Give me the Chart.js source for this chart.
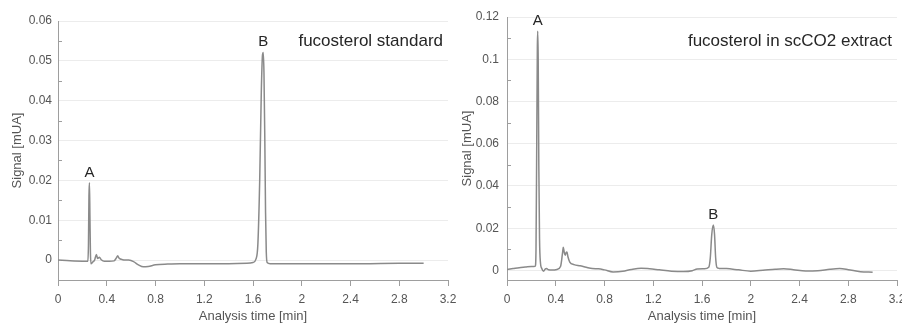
<!DOCTYPE html>
<html>
<head>
<meta charset="utf-8">
<script src="https://cdn.jsdelivr.net/npm/chart.js@4.4.1/dist/chart.umd.min.js"></script>
<style>
  html, body { margin: 0; padding: 0; background: #fff; }
  #wrap { position: relative; width: 902px; height: 324px; overflow: hidden; background: #fff; }
  #stdChart { position: absolute; left: 0; top: 0; }
  #extChart { position: absolute; left: 450px; top: 0; }
</style>
</head>
<body>
<div id="wrap">
  <canvas id="stdChart" width="470" height="324"></canvas>
  <canvas id="extChart" width="470" height="324"></canvas>
</div>
<script>
// shared axis
const xTicks = [0, 0.4, 0.8, 1.2, 1.6, 2, 2.4, 2.8, 3.2];

// fucosterol standard (left)
const stdTime = [0, 0.1, 0.2, 0.245, 0.25, 0.254, 0.258, 0.262, 0.266, 0.27, 0.285, 0.3, 0.315, 0.325, 0.34, 0.355, 0.38,
    0.42, 0.46, 0.48, 0.49, 0.5, 0.53, 0.58, 0.62, 0.66, 0.7, 0.74, 0.8, 0.9, 1.0, 1.2, 1.4, 1.55, 1.6, 1.625, 1.64,
    1.655, 1.668, 1.678, 1.684, 1.69, 1.697, 1.703, 1.709, 1.716, 1.74, 1.9, 2.2, 2.5, 2.8, 3.0];
const stdSignal = [0, -0.0002, -0.0003, -0.0003, 0.004, 0.016, 0.0194, 0.011, 0.002, -0.0009, -0.0005, 0, 0.0014, 0.0004, 0.0007, 0.0001, -0.0003,
    -0.0003, -0.0002, 0.0006, 0.0011, 0.0005, 0.0001, 0, -0.0004, -0.0012, -0.0017, -0.0016, -0.0012, -0.001, -0.0009, -0.0009, -0.0009, -0.0008, -0.0006, 0.0003, 0.004,
    0.02, 0.042, 0.0515, 0.0521, 0.047, 0.03, 0.012, 0.002, -0.0006, -0.0009, -0.0009, -0.0009, -0.0009, -0.0008, -0.0008];
const stdYTicks = [0, 0.01, 0.02, 0.03, 0.04, 0.05, 0.06];
const stdYMinor = [0.005, 0.015, 0.025, 0.035, 0.045, 0.055];
const stdPeakNames = ['A', 'B'];
const stdPeakTime = [0.258, 1.684];
const stdPeakSignal = [0.0194, 0.0521];

// fucosterol in scCO2 extract (right)
const extTime = [0, 0.05, 0.1, 0.15, 0.2, 0.232, 0.238, 0.244, 0.249, 0.252, 0.256, 0.261, 0.267, 0.274, 0.285, 0.3, 0.315,
    0.325, 0.34, 0.37, 0.41, 0.44, 0.455, 0.462, 0.47, 0.478, 0.485, 0.492, 0.5, 0.515, 0.55, 0.6, 0.65, 0.7, 0.75, 0.8,
    0.87, 0.95, 1.02, 1.1, 1.17, 1.25, 1.35, 1.45, 1.52, 1.56, 1.62, 1.655, 1.668, 1.68, 1.693, 1.703, 1.712, 1.722, 1.74,
    1.8, 1.9, 2.0, 2.1, 2.2, 2.27, 2.35, 2.45, 2.55, 2.65, 2.73, 2.8, 2.9, 3.0];
const extSignal = [0.0005, 0.0009, 0.0013, 0.0016, 0.0019, 0.002, 0.01, 0.06, 0.105, 0.1133, 0.1, 0.05, 0.015, 0.004, 0.001, -0.0003, 0.0008,
    0.001, 0.0003, 0.0002, 0.0005, 0.002, 0.008, 0.011, 0.0085, 0.0072, 0.0085, 0.0088, 0.0065, 0.004, 0.0028, 0.0022, 0.0015, 0.0009, 0.0008, 0.0003,
    -0.0007, -0.0004, 0.0005, 0.0011, 0.0008, 0.0003, -0.0003, -0.0005, -0.0001, 0.0007, 0.0008, 0.0015, 0.006, 0.017, 0.0215, 0.017, 0.006, 0.0015, 0.001,
    0.0009, 0.0003, -0.0003, 0.0001, 0.0006, 0.0008, 0.0004, -0.0002, -0.0001, 0.0006, 0.0009, 0.0004, -0.0006, -0.0008];
const extYTicks = [0, 0.02, 0.04, 0.06, 0.08, 0.1, 0.12];
const extYMinor = [0.01, 0.03, 0.05, 0.07, 0.09, 0.11];
const extPeakNames = ['A', 'B'];
const extPeakTime = [0.252, 1.693];
const extPeakSignal = [0.1133, 0.0215];

const FONT = "'Liberation Sans', Arial, sans-serif";
const AXIS_GRAY = '#9e9e9e';
const TEXT_GRAY = '#555555';

// peak letters, panel caption and the short minor ticks inside the y axis
const chromLabels = {
    id: 'chromLabels',
    afterDraw(chart, args, opts) {
        const ctx = chart.ctx;
        const xs = chart.scales.x;
        const ys = chart.scales.y;
        const area = chart.chartArea;
        ctx.save();

        ctx.strokeStyle = AXIS_GRAY;
        ctx.lineWidth = 1;
        opts.minor.forEach(v => {
            const py = Math.round(ys.getPixelForValue(v)) + 0.5;
            ctx.beginPath();
            ctx.moveTo(area.left, py);
            ctx.lineTo(area.left + 4, py);
            ctx.stroke();
        });

        ctx.fillStyle = '#262626';
        ctx.font = '15px ' + FONT;
        ctx.textAlign = 'center';
        ctx.textBaseline = 'alphabetic';
        opts.names.forEach((name, i) => {
            ctx.fillText(name, xs.getPixelForValue(opts.times[i]), ys.getPixelForValue(opts.signals[i]) - 6);
        });

        ctx.font = '17px ' + FONT;
        ctx.textAlign = 'right';
        ctx.fillText(opts.caption, area.right - 5, opts.captionY);
        ctx.restore();
    }
};

function makeChart(id, time, signal, yMin, yMax, yTicks, cfg) {
    const points = time.map((t, i) => ({ x: t, y: signal[i] }));
    return new Chart(document.getElementById(id), {
        type: 'line',
        data: {
            datasets: [{
                data: points,
                borderColor: '#8a8a8a',
                borderWidth: 1.5,
                pointRadius: 0,
                cubicInterpolationMode: 'monotone',
                fill: false
            }]
        },
        options: {
            responsive: false,
            animation: false,
            events: [],
            layout: { autoPadding: false, padding: { left: 0, right: cfg.padRight, top: cfg.padTop, bottom: 0 } },
            plugins: {
                legend: { display: false },
                tooltip: { enabled: false },
                chromLabels: cfg.labels
            },
            scales: {
                x: {
                    type: 'linear',
                    min: 0,
                    max: 3.2,
                    afterBuildTicks: s => { s.ticks = xTicks.map(v => ({ value: v })); },
                    afterFit: s => { s.height = 44; },
                    grid: { drawOnChartArea: false, drawTicks: true, tickLength: 6, tickColor: AXIS_GRAY },
                    border: { color: AXIS_GRAY, width: 1 },
                    ticks: { color: TEXT_GRAY, font: { family: FONT, size: 12 }, padding: 6, maxRotation: 0, callback: v => String(v) },
                    title: { display: true, text: 'Analysis time [min]', color: TEXT_GRAY, font: { family: FONT, size: 13 }, padding: 0 }
                },
                y: {
                    min: yMin,
                    max: yMax,
                    afterBuildTicks: s => { s.ticks = yTicks.map(v => ({ value: v })); },
                    afterFit: s => { s.width = cfg.axisWidth; },
                    grid: { color: '#ececec', drawTicks: false },
                    border: { color: AXIS_GRAY, width: 1 },
                    ticks: { color: TEXT_GRAY, font: { family: FONT, size: 12 }, padding: cfg.tickPad, callback: v => String(v) },
                    title: { display: true, text: 'Signal [mUA]', color: TEXT_GRAY, font: { family: FONT, size: 13 }, padding: { top: 10, bottom: 0 } }
                }
            }
        },
        plugins: [chromLabels]
    });
}

makeChart('stdChart', stdTime, stdSignal, -0.005, 0.06, stdYTicks, {
    padRight: 22, padTop: 21, axisWidth: 58, tickPad: 6,
    labels: { minor: stdYMinor, names: stdPeakNames, times: stdPeakTime, signals: stdPeakSignal, caption: 'fucosterol standard', captionY: 46 }
});

makeChart('extChart', extTime, extSignal, -0.0045, 0.12, extYTicks, {
    padRight: 23, padTop: 17, axisWidth: 57, tickPad: 8,
    labels: { minor: extYMinor, names: extPeakNames, times: extPeakTime, signals: extPeakSignal, caption: 'fucosterol in scCO2 extract', captionY: 46 }
});
</script>
</body>
</html>
